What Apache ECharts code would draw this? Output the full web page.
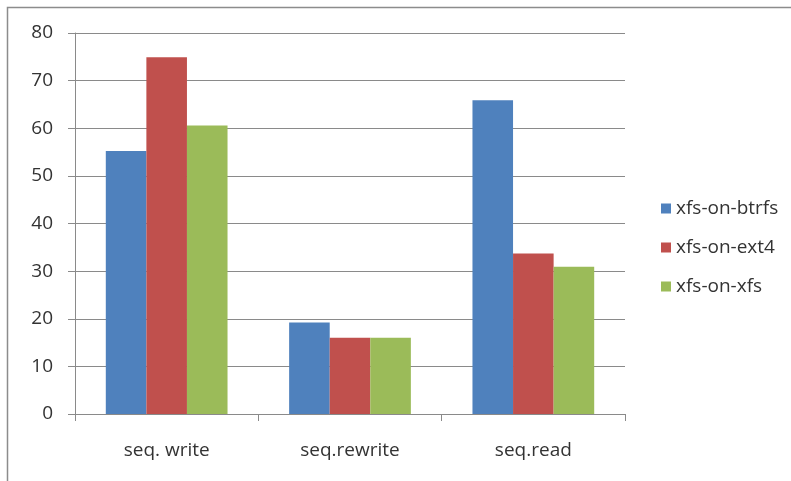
<!DOCTYPE html>
<html>
<head>
<meta charset="utf-8">
<script src="https://cdn.jsdelivr.net/npm/echarts@6/dist/echarts.min.js"></script>
<style>
  html, body { margin: 0; padding: 0; background: #fff; }
  #chart { width: 791px; height: 481px; }
</style>
</head>
<body>
<div id="chart"></div>
<script>
// Benchmark categories and throughput per filesystem stack
const categories = ['seq. write', 'seq.rewrite', 'seq.read'];
const seriesNames = ['xfs-on-btrfs', 'xfs-on-ext4', 'xfs-on-xfs'];
const btrfsValues = [55.2, 19.2, 65.9];
const ext4Values = [74.9, 16.0, 33.7];
const xfsValues = [60.6, 16.0, 30.9];
const colors = ['#4F81BD', '#C0504D', '#9BBB59'];

const textColor = '#333333';
const lineColor = '#8a8a8a';
const fontFamily = '"Open Sans", Lato, sans-serif';
const fontSize = 19;

const chart = echarts.init(document.getElementById('chart'), null, { renderer: 'canvas' });

function barSeries(name, data, color) {
  return {
    name: name,
    type: 'bar',
    data: data,
    barGap: '0%',
    barCategoryGap: '33.6%',
    itemStyle: { color: color },
    emphasis: { disabled: true }
  };
}

chart.setOption({
  animation: false,
  backgroundColor: '#ffffff',
  textStyle: { fontFamily: fontFamily },
  grid: { left: 75, right: 166, top: 33, bottom: 67, containLabel: false },
  legend: {
    orient: 'vertical',
    left: 661,
    top: 199,
    padding: 0,
    itemWidth: 10,
    itemHeight: 10,
    itemGap: 20,
    icon: 'rect',
    textStyle: { color: textColor, fontSize: fontSize, fontFamily: fontFamily },
    data: seriesNames
  },
  xAxis: {
    type: 'category',
    data: categories,
    axisLine: { lineStyle: { color: lineColor, width: 1 } },
    axisTick: { show: true, length: 7, alignWithLabel: false, lineStyle: { color: lineColor } },
    axisLabel: { color: textColor, fontSize: fontSize, margin: 27, fontFamily: fontFamily },
    splitLine: { show: false }
  },
  yAxis: {
    type: 'value',
    min: 0,
    max: 80,
    interval: 10,
    axisLine: { show: true, lineStyle: { color: lineColor, width: 1 } },
    axisTick: { show: true, length: 7, lineStyle: { color: lineColor } },
    axisLabel: { color: textColor, fontSize: fontSize, margin: 22, fontFamily: fontFamily },
    splitLine: { show: true, lineStyle: { color: lineColor, width: 1 } }
  },
  graphic: [
    {
      type: 'polyline',
      silent: true,
      shape: { points: [[7.5, 481], [7.5, 7.5], [791, 7.5]] },
      style: { stroke: '#8c8c8c', lineWidth: 1.5, fill: null }
    }
  ],
  series: [
    barSeries(seriesNames[0], btrfsValues, colors[0]),
    barSeries(seriesNames[1], ext4Values, colors[1]),
    barSeries(seriesNames[2], xfsValues, colors[2])
  ]
});
</script>
</body>
</html>
